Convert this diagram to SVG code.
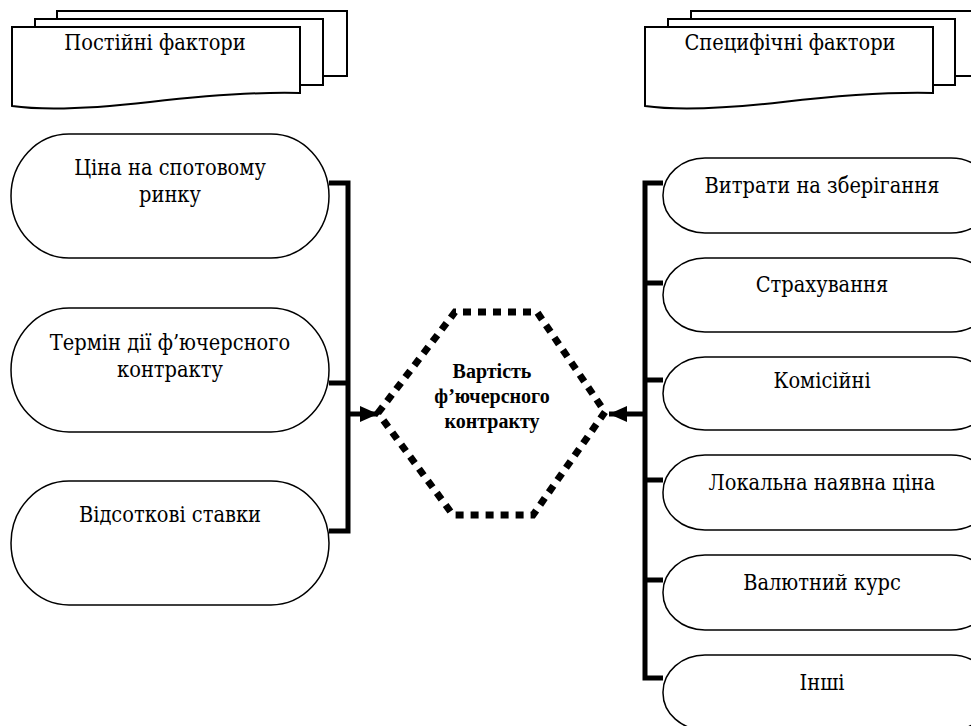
<svg xmlns="http://www.w3.org/2000/svg" width="971" height="726" viewBox="0 0 971 726">
<defs>
<style>
.doc{fill:#fff;stroke:#000;stroke-width:2}
.pill{fill:#fff;stroke:#000;stroke-width:1.5}
text{fill:#000;text-anchor:middle}
.t{font-family:"DejaVu Serif Condensed","DejaVu Serif",serif;font-stretch:condensed;font-size:21.6px}
.tb{font-family:"Liberation Serif","Times New Roman",serif;font-size:20px;font-weight:bold}
.bus{fill:none;stroke:#000;stroke-width:5}
.hex{fill:#fff;stroke:#000;stroke-width:7;stroke-dasharray:8 7}
</style>
<marker id="ah" markerUnits="userSpaceOnUse" markerWidth="18" markerHeight="16" refX="18" refY="8" orient="auto">
<path d="M0,0 L18,8 L0,16 Z" fill="#000"/>
</marker>
</defs>
<rect width="971" height="726" fill="#fff"/>

<g id="const-factors">
<rect class="doc" x="57" y="11" width="290" height="65"/>
<rect class="doc" x="35" y="19" width="288" height="66"/>
<path class="doc" d="M12,27 H300 V93 C260,92 210,95 150,102 C80,110 40,110 12,106 Z"/>
<text class="t" x="155" y="50">Постійні фактори</text>
</g>

<g id="spec-factors">
<rect class="doc" x="691" y="11" width="300" height="65"/>
<rect class="doc" x="668" y="19" width="287" height="66"/>
<path class="doc" d="M645,27 H933 V93 C893,92 843,95 783,102 C713,110 673,110 645,106 Z"/>
<text class="t" x="790" y="50">Специфічні фактори</text>
</g>

<g id="l1"><rect class="pill" x="11" y="134" width="318" height="124" rx="58" ry="62"/>
<text class="t" x="170" y="175">Ціна на спотовому</text><text class="t" x="170" y="202">ринку</text></g>
<g id="l2"><rect class="pill" x="11" y="308" width="318" height="124" rx="58" ry="62"/>
<text class="t" x="170" y="350">Термін дії ф’ючерсного</text><text class="t" x="170" y="377">контракту</text></g>
<g id="l3"><rect class="pill" x="11" y="481" width="318" height="124" rx="58" ry="62"/>
<text class="t" x="170" y="522">Відсоткові ставки</text></g>

<g id="r1"><rect class="pill" x="663" y="158" width="330" height="75" rx="42" ry="37"/><text class="t" x="822" y="193">Витрати на зберігання</text></g>
<g id="r2"><rect class="pill" x="663" y="258" width="330" height="74" rx="42" ry="37"/><text class="t" x="822" y="292">Страхування</text></g>
<g id="r3"><rect class="pill" x="663" y="357" width="330" height="73" rx="42" ry="37"/><text class="t" x="822" y="388">Комісійні</text></g>
<g id="r4"><rect class="pill" x="663" y="455" width="330" height="75" rx="42" ry="37"/><text class="t" x="822" y="490">Локальна наявна ціна</text></g>
<g id="r5"><rect class="pill" x="663" y="555" width="330" height="75" rx="42" ry="37"/><text class="t" x="822" y="590">Валютний курс</text></g>
<g id="r6"><rect class="pill" x="663" y="655" width="330" height="75" rx="42" ry="37"/><text class="t" x="822" y="690">Інші</text></g>

<g id="center">
<polygon class="hex" points="378,413 455,312 537,312 605,412 533,515 453,515"/>
<text class="tb" x="492" y="378">Вартість</text>
<text class="tb" x="492" y="403">ф’ючерсного</text>
<text class="tb" x="492" y="428">контракту</text>
</g>

<g id="connectors">
<path class="bus" d="M329,183 H348 V531 H329 M329,383 H348"/>
<path class="bus" d="M348,414 H378" marker-end="url(#ah)"/>
<path class="bus" d="M663,183 H645 V678 H663 M663,283 H645 M663,380 H645 M663,480 H645 M663,580 H645"/>
<path class="bus" d="M645,414 H609" marker-end="url(#ah)"/>
</g>
</svg>
